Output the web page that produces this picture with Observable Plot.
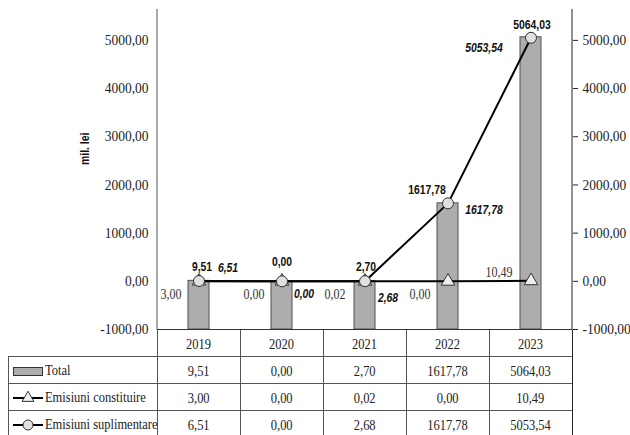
<!DOCTYPE html>
<html><head><meta charset="utf-8">
<script src="https://cdn.jsdelivr.net/npm/d3@7"></script>
<script src="https://cdn.jsdelivr.net/npm/@observablehq/plot@0.6"></script>
<style>
body{margin:0;background:#fff;}
#wrap{position:relative;width:630px;height:435px;overflow:hidden;font-family:'Liberation Serif',Tinos,'Times New Roman','DejaVu Serif',serif;}
#wrap svg.plot{position:absolute;left:0;top:0;}
.ln{position:absolute;background:#555;}
.cell{position:absolute;display:flex;align-items:center;justify-content:center;font-size:14.5px;color:#222;white-space:nowrap;}
.cell span{display:inline-block;transform:scaleX(0.86);}
.lab{position:absolute;font-size:14.5px;color:#222;white-space:nowrap;transform-origin:left center;transform:scaleX(0.86);}
</style></head><body><div id="wrap"></div>
<script>
// ---- data ----
const years = ["2019", "2020", "2021", "2022", "2023"];
const total = [9.51, 0.00, 2.70, 1617.78, 5064.03];
const constituire = [3.00, 0.00, 0.02, 0.00, 10.49];
const suplimentare = [6.51, 0.00, 2.68, 1617.78, 5053.54];
const yTicks = [-1000, 0, 1000, 2000, 3000, 4000, 5000];
const seriesNames = ["Total", "Emisiuni constituire", "Emisiuni suplimentare"];
const yLabel = "mil. lei";

// ---- helpers ----
const fmt = v => v.toFixed(2).replace(".", ",");
const rows = years.map((year, i) => ({year, total: total[i], constituire: constituire[i], suplimentare: suplimentare[i]}));
const serif = "'Liberation Serif', Tinos, 'Times New Roman', 'DejaVu Serif', serif";
const sans = "'Liberation Sans', Arimo, Arial, sans-serif";

// label placement (pixel nudges)
const totalOff = [[3, -14], [0, -19], [1, -14], [-21, -14], [1, -12]];
const supOff = [[29, -13], [22, 13], [23, 17], [36, 6], [-47, 10]];
const conOff = [[-28, 13], [-28, 13], [-30, 13], [-28, 13], [-32, -9]];

const labelMarks = [];
rows.forEach((r, i) => {
  labelMarks.push(Plot.text([r], {x: "year", y: "total", text: d => fmt(d.total), dx: totalOff[i][0], dy: totalOff[i][1], fontFamily: sans, fontWeight: "bold", fontSize: 13, fill: "#111"}));
  labelMarks.push(Plot.text([r], {x: "year", y: "suplimentare", text: d => fmt(d.suplimentare), dx: supOff[i][0], dy: supOff[i][1], fontFamily: sans, fontWeight: "bold", fontStyle: "italic", fontSize: 13, fill: "#111"}));
  labelMarks.push(Plot.text([r], {x: "year", y: "constituire", text: d => fmt(d.constituire), dx: conOff[i][0], dy: conOff[i][1], fontFamily: serif, fontSize: 15, fill: "#333"}));
});

const chart = Plot.plot({
  width: 630, height: 345,
  marginLeft: 157, marginRight: 58, marginTop: 10, marginBottom: 16,
  style: {fontFamily: serif, fontSize: "14.5px", color: "#222", background: "transparent"},
  x: {type: "band", domain: years, padding: 0, axis: null},
  y: {domain: [-1000, 5620], axis: null},
  marks: [
    Plot.barY(rows, {x: "year", y1: () => -1000, y2: "total", insetLeft: 31, insetRight: 31, fill: "#adadad", stroke: "#505050", strokeWidth: 1}),
    Plot.axisY({anchor: "left", ticks: yTicks, tickFormat: fmt, tickSize: 0, tickPadding: 9, fontSize: 14.5, fontFamily: serif, label: null}),
    Plot.axisY({anchor: "right", ticks: yTicks, tickFormat: fmt, tickSize: 5, tickPadding: 5, fontSize: 14.5, fontFamily: serif, stroke: "#222", label: null}),
    Plot.ruleY([-1000], {stroke: "#333", strokeWidth: 1}),
    Plot.text([yLabel], {frameAnchor: "left", rotate: -90, dx: -73, dy: -5, fontFamily: sans, fontWeight: "bold", fontSize: 13, fill: "#111"}),
    Plot.line(rows, {x: "year", y: "constituire", stroke: "#000", strokeWidth: 2}),
    Plot.dot(rows, {x: "year", y: "constituire", symbol: "triangle", r: 5, fill: "#eee", stroke: "#333", strokeWidth: 1}),
    Plot.line(rows, {x: "year", y: "suplimentare", stroke: "#000", strokeWidth: 2}),
    Plot.dot(rows, {x: "year", y: "suplimentare", r: 5.5, fill: "#e0e0e0", stroke: "#333", strokeWidth: 1}),
    ...labelMarks
  ]
});

// condense data labels horizontally like the reference
d3.select(chart).selectAll('g[aria-label="text"] text').each(function() {
  const t = this.getAttribute("transform") || "";
  this.setAttribute("transform", t + " scale(0.8,1)");
});
d3.select(chart).selectAll('g[aria-label^="y-axis tick label"] text').each(function() {
  const t = this.getAttribute("transform") || "";
  this.setAttribute("transform", t + " scale(0.93,1)");
});

const wrap = document.getElementById("wrap");
wrap.appendChild(chart);

// axis lines from the plot's scales
const xs = chart.scale("x"), ys = chart.scale("y");
const bw = xs.bandwidth;
const edges = years.map(y => xs.apply(y)).concat([xs.apply(years[years.length - 1]) + bw]);
const xL = edges[0], xR = edges[edges.length - 1];
const yTop = ys.apply(5620), yBot = ys.apply(-1000);
const svg = d3.select(chart);
svg.append("line").attr("x1", xL).attr("x2", xL).attr("y1", yTop - 1).attr("y2", yBot + 1).attr("stroke", "#555");
svg.append("line").attr("x1", xR).attr("x2", xR).attr("y1", yTop - 1).attr("y2", yBot + 1).attr("stroke", "#222");

// ---- data table below the chart ----
const tTop = Math.round(yBot) + 0.5;
const rowH = 27;
const rowY = [tTop, tTop + rowH, tTop + 2 * rowH, tTop + 3 * rowH, tTop + 4 * rowH];
const tableLeft = 8;
function hline(x1, x2, y) { const d = document.createElement("div"); d.className = "ln"; Object.assign(d.style, {left: x1 + "px", top: (y - 0.5) + "px", width: (x2 - x1) + "px", height: "1px"}); wrap.appendChild(d); }
function vline(x, y1, y2, c) { const d = document.createElement("div"); d.className = "ln"; Object.assign(d.style, {left: (x - 0.5) + "px", top: y1 + "px", width: "1px", height: (y2 - y1) + "px", background: c || "#555"}); wrap.appendChild(d); }
function cell(x1, x2, y1, y2, txt) { const d = document.createElement("div"); d.className = "cell"; Object.assign(d.style, {left: x1 + "px", top: y1 + "px", width: (x2 - x1) + "px", height: (y2 - y1) + "px"}); const s = document.createElement("span"); s.textContent = txt; d.appendChild(s); wrap.appendChild(d); }

for (let k = 1; k < rowY.length; k++) hline(tableLeft, xR + 0.5, rowY[k]);
vline(tableLeft, rowY[1], 435);
edges.forEach((e, k) => vline(e, rowY[0], 435, k === edges.length - 1 ? "#222" : "#555"));
years.forEach((y, i) => cell(edges[i], edges[i + 1], rowY[0], rowY[1] + 2, y));
const tableSeries = [total, constituire, suplimentare];
tableSeries.forEach((arr, r) => arr.forEach((v, i) => cell(edges[i], edges[i + 1], rowY[r + 1], rowY[r + 2] + 2, fmt(v))));

// legend column (series keys)
seriesNames.forEach((name, r) => {
  const cy = (rowY[r + 1] + rowY[r + 2]) / 2;
  const sw = d3.create("svg").attr("width", 34).attr("height", 16).style("position", "absolute").style("left", "11px").style("top", (cy - 7) + "px");
  if (r === 0) {
    sw.append("rect").attr("x", 2.5).attr("y", 4.5).attr("width", 29).attr("height", 8).attr("fill", "#adadad").attr("stroke", "#333");
  } else {
    sw.append("line").attr("x1", 2).attr("x2", 32).attr("y1", 8).attr("y2", 8).attr("stroke", "#000").attr("stroke-width", 2);
    if (r === 1) sw.append("path").attr("transform", "translate(17,8)").attr("d", d3.symbol(d3.symbolTriangle, 60)()).attr("fill", "#eee").attr("stroke", "#333");
    else sw.append("circle").attr("cx", 17).attr("cy", 8).attr("r", 5).attr("fill", "#e0e0e0").attr("stroke", "#333");
  }
  wrap.appendChild(sw.node());
  const l = document.createElement("div"); l.className = "lab"; l.textContent = name;
  Object.assign(l.style, {left: "45px", top: (cy - 9) + "px", lineHeight: "18px"});
  wrap.appendChild(l);
});
</script></body></html>
